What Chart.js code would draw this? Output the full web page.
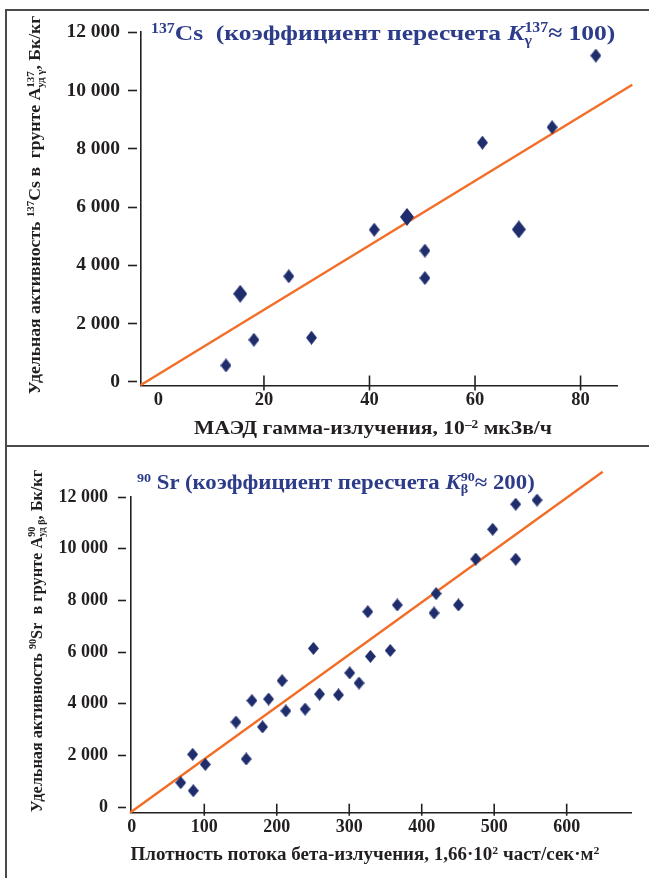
<!DOCTYPE html>
<html><head><meta charset="utf-8">
<script src="https://cdn.jsdelivr.net/npm/chart.js@4.4.1/dist/chart.umd.min.js"></script>
<style>
html,body{margin:0;padding:0;background:#fff;}
#wrap{position:relative;width:649px;height:878px;overflow:hidden;font-family:"Liberation Serif","Times New Roman",serif;}
canvas{position:absolute;left:0;}
.t{position:absolute;white-space:nowrap;font-weight:bold;line-height:1;}
.title{color:#2d3c8a;transform-origin:0 0;}
.ax{color:#231f20;}
.yt{color:#231f20;}
sup{font-size:0.62em;line-height:0;vertical-align:0.55em;}
.stk{display:inline-flex;flex-direction:column;font-size:0.62em;line-height:0.95;vertical-align:0.62em;}
.stk span{display:block;}
.line{position:absolute;background:#4a4a4a;}
</style>
</head><body>
<div id="wrap">
  <div class="line" style="left:5px;top:9px;width:644px;height:1.5px"></div>
  <div class="line" style="left:5px;top:9px;width:1.5px;height:869px"></div>
  <div class="line" style="left:5px;top:445px;width:644px;height:2px"></div>
  <canvas id="c1" width="649" height="446" style="top:0"></canvas>
  <canvas id="c2" width="649" height="432" style="top:446px"></canvas>

  <div class="t title" style="left:151px;top:21.6px;font-size:22px;transform:scaleX(1.16)"><sup>137</sup>Cs&nbsp; (коэффициент пересчета <i>K</i><span class="stk"><span>137</span><span>γ</span></span>≈ 100)</div>
  <div class="t title" style="left:137px;top:471.5px;font-size:20px;transform:scaleX(1.14)"><sup>90</sup> Sr (коэффициент пересчета <i>K</i><span class="stk"><span>90</span><span>β</span></span>≈ 200)</div>

  <div class="t yt" style="left:35px;top:205px;font-size:17.7px;transform:translate(-50%,-50%) rotate(-90deg)">Удельная активность <sup>137</sup>Cs в&nbsp; грунте A<span class="stk"><span>137</span><span>уд γ</span></span>, Бк/кг</div>
  <div class="t yt" style="left:37px;top:641px;font-size:16.3px;transform:translate(-50%,-50%) rotate(-90deg)">Удельная активность <sup>90</sup>Sr&nbsp; в грунте A<span class="stk"><span>90</span><span>уд β</span></span>, Бк/кг</div>

  <div class="t ax" style="left:373px;top:419.4px;font-size:18.6px;transform:translateX(-50%) scaleX(1.16)">МАЭД гамма-излучения, 10<sup>–2</sup> мкЗв/ч</div>
  <div class="t ax" style="left:365px;top:845px;font-size:18px;transform:translateX(-50%) scaleX(1.055)">Плотность потока бета-излучения, 1,66·10<sup>2</sup> част/сек·м<sup>2</sup></div>
</div>
<script>
// ---------- DATA ----------
// 137Cs panel: MAED (10^-2 µSv/h) vs specific activity (Bq/kg)
const csX      = [12.8, 18.1, 24.7, 29.0, 40.9, 50.5, 50.5, 61.4, 74.6, 82.9];
const csY      = [560, 1440, 3620, 1510, 5220, 4500, 3560, 8210, 8740, 11200];
const csMultiX = [15.5, 47.1, 68.3];          // larger markers (overlapping samples)
const csMultiY = [3020, 5660, 5230];
const csFitX   = [-3.4, 89.8];
const csFitY   = [-120, 10200];
const csXTicks = [0, 20, 40, 60, 80];
const csXMarks = [20, 40, 60, 80];
const csYTicks = [0, 2000, 4000, 6000, 8000, 10000, 12000];

// 90Sr panel: beta flux density vs specific activity (Bq/kg)
const srX = [67.5, 84.8, 84.0, 101.4, 143.7, 157.9, 165.7, 180.4, 188.7, 207.4,
             212.5, 239.1, 250.6, 259.0, 285.1, 300.7, 313.5, 325.6, 329.2, 356.5,
             366.3, 417.0, 419.8, 450.6, 474.5, 497.9, 529.7, 529.7, 559.1, 648.8];
const srY = [940, 630, 2040, 1650, 3290, 1860, 4120, 3100, 4180, 4890,
             3720, 3790, 6140, 4370, 4340, 5190, 4800, 7560, 5830, 6060,
             7820, 7510, 8260, 7820, 9600, 10750, 11720, 9590, 11880, 12660];
const srFitX   = [-2.5, 649.7];
const srFitY   = [-220, 12980];
const srXTicks = [0, 100, 200, 300, 400, 500, 600];
const srXMarks = [100, 200, 300, 400, 500, 600];
const srYTicks = [0, 2000, 4000, 6000, 8000, 10000, 12000];

// ---------- helpers ----------
const NAVY = '#1f2d6d', ORANGE = '#f26d26', AXIS = '#231f20';
function diamond(w, h) {
  const c = document.createElement('canvas'); c.width = w; c.height = h;
  const g = c.getContext('2d'); g.fillStyle = NAVY; g.beginPath();
  g.moveTo(w/2, 0); g.lineTo(w, h/2); g.lineTo(w/2, h); g.lineTo(0, h/2); g.closePath(); g.fill();
  return c;
}
const zip = (xs, ys) => xs.map((x, i) => ({x, y: ys[i]}));
const fmt = v => v === 0 ? '0' : String(v).replace(/\B(?=(\d{3})+(?!\d))/g, ' ');

const xTickMarks = {
  id: 'xTickMarks',
  afterDraw(chart, args, o) {
    const s = chart.scales.x, ctx = chart.ctx, yb = chart.chartArea.bottom;
    ctx.save(); ctx.strokeStyle = AXIS; ctx.lineWidth = 1.6;
    o.values.forEach(v => {
      const x = s.getPixelForValue(v);
      ctx.beginPath(); ctx.moveTo(x, yb - o.up); ctx.lineTo(x, yb + o.down); ctx.stroke();
    });
    ctx.restore();
  }
};

function makeChart(id, cfg) {
  return new Chart(document.getElementById(id), {
    type: 'scatter',
    data: { datasets: cfg.datasets },
    options: {
      responsive: false, animation: false, events: [],
      layout: { padding: cfg.pad },
      plugins: { legend: {display: false}, tooltip: {enabled: false},
                 xTickMarks: { values: cfg.marks, up: cfg.up, down: cfg.down } },
      scales: {
        x: {
          type: 'linear', min: cfg.xmin, max: cfg.xmax,
          afterBuildTicks: s => { s.ticks = cfg.xticks.map(v => ({value: v})); },
          afterFit: s => { s.height = cfg.xh; },
          grid: { display: false, drawTicks: false },
          border: { display: true, color: AXIS, width: 1.6 },
          ticks: { color: AXIS, padding: cfg.xpad, maxRotation: 0, autoSkip: false,
                   font: { family: 'Liberation Serif', size: cfg.xfs, weight: 'bold' } }
        },
        y: {
          type: 'linear', min: cfg.ymin, max: cfg.ymax,
          afterBuildTicks: s => { s.ticks = cfg.yticks.map(v => ({value: v})); },
          afterFit: s => { s.width = cfg.yw; },
          grid: { drawOnChartArea: false, drawTicks: true, tickLength: 13, tickWidth: 1.6,
                  tickColor: AXIS, tickBorderDash: cfg.dash },
          border: { display: true, color: AXIS, width: 1.6 },
          ticks: { color: AXIS, padding: cfg.ypad, autoSkip: false, callback: fmt,
                   font: { family: 'Liberation Serif', size: cfg.yfs, weight: 'bold' } }
        }
      }
    },
    plugins: [xTickMarks]
  });
}

const small1 = diamond(11, 14), big1 = diamond(14, 18), small2 = diamond(11, 13);

makeChart('c1', {
  datasets: [
    { data: zip(csX, csY), pointStyle: small1, pointRadius: 7, clip: false },
    { data: zip(csMultiX, csMultiY), pointStyle: big1, pointRadius: 9, clip: false },
    { data: zip(csFitX, csFitY), showLine: true, borderColor: ORANGE, borderWidth: 2.4,
      pointRadius: 0, clip: false }
  ],
  pad: { left: 0, top: 32.3, right: 31.5, bottom: 0 },
  xmin: -3.3, xmax: 87, ymin: -130, ymax: 12000,
  xticks: csXTicks, yticks: csYTicks, marks: csXMarks, up: 10, down: 5,
  xh: 60.5, yw: 141, xpad: 4, ypad: 8, xfs: 18.5, yfs: 19.5, dash: [9, 4]
});

makeChart('c2', {
  datasets: [
    { data: zip(srX, srY), pointStyle: small2, pointRadius: 7, clip: false },
    { data: zip(srFitX, srFitY), showLine: true, borderColor: ORANGE, borderWidth: 2.4,
      pointRadius: 0, clip: false }
  ],
  pad: { left: 0, top: 51, right: 17.3, bottom: 0 },
  xmin: -1.1, xmax: 689.7, ymin: -220, ymax: 12000,
  xticks: srXTicks, yticks: srYTicks, marks: srXMarks, up: 9, down: 3,
  xh: 65.3, yw: 131, xpad: 4, ypad: 10, xfs: 18, yfs: 18, dash: [8, 5]
});
</script>
</body></html>
